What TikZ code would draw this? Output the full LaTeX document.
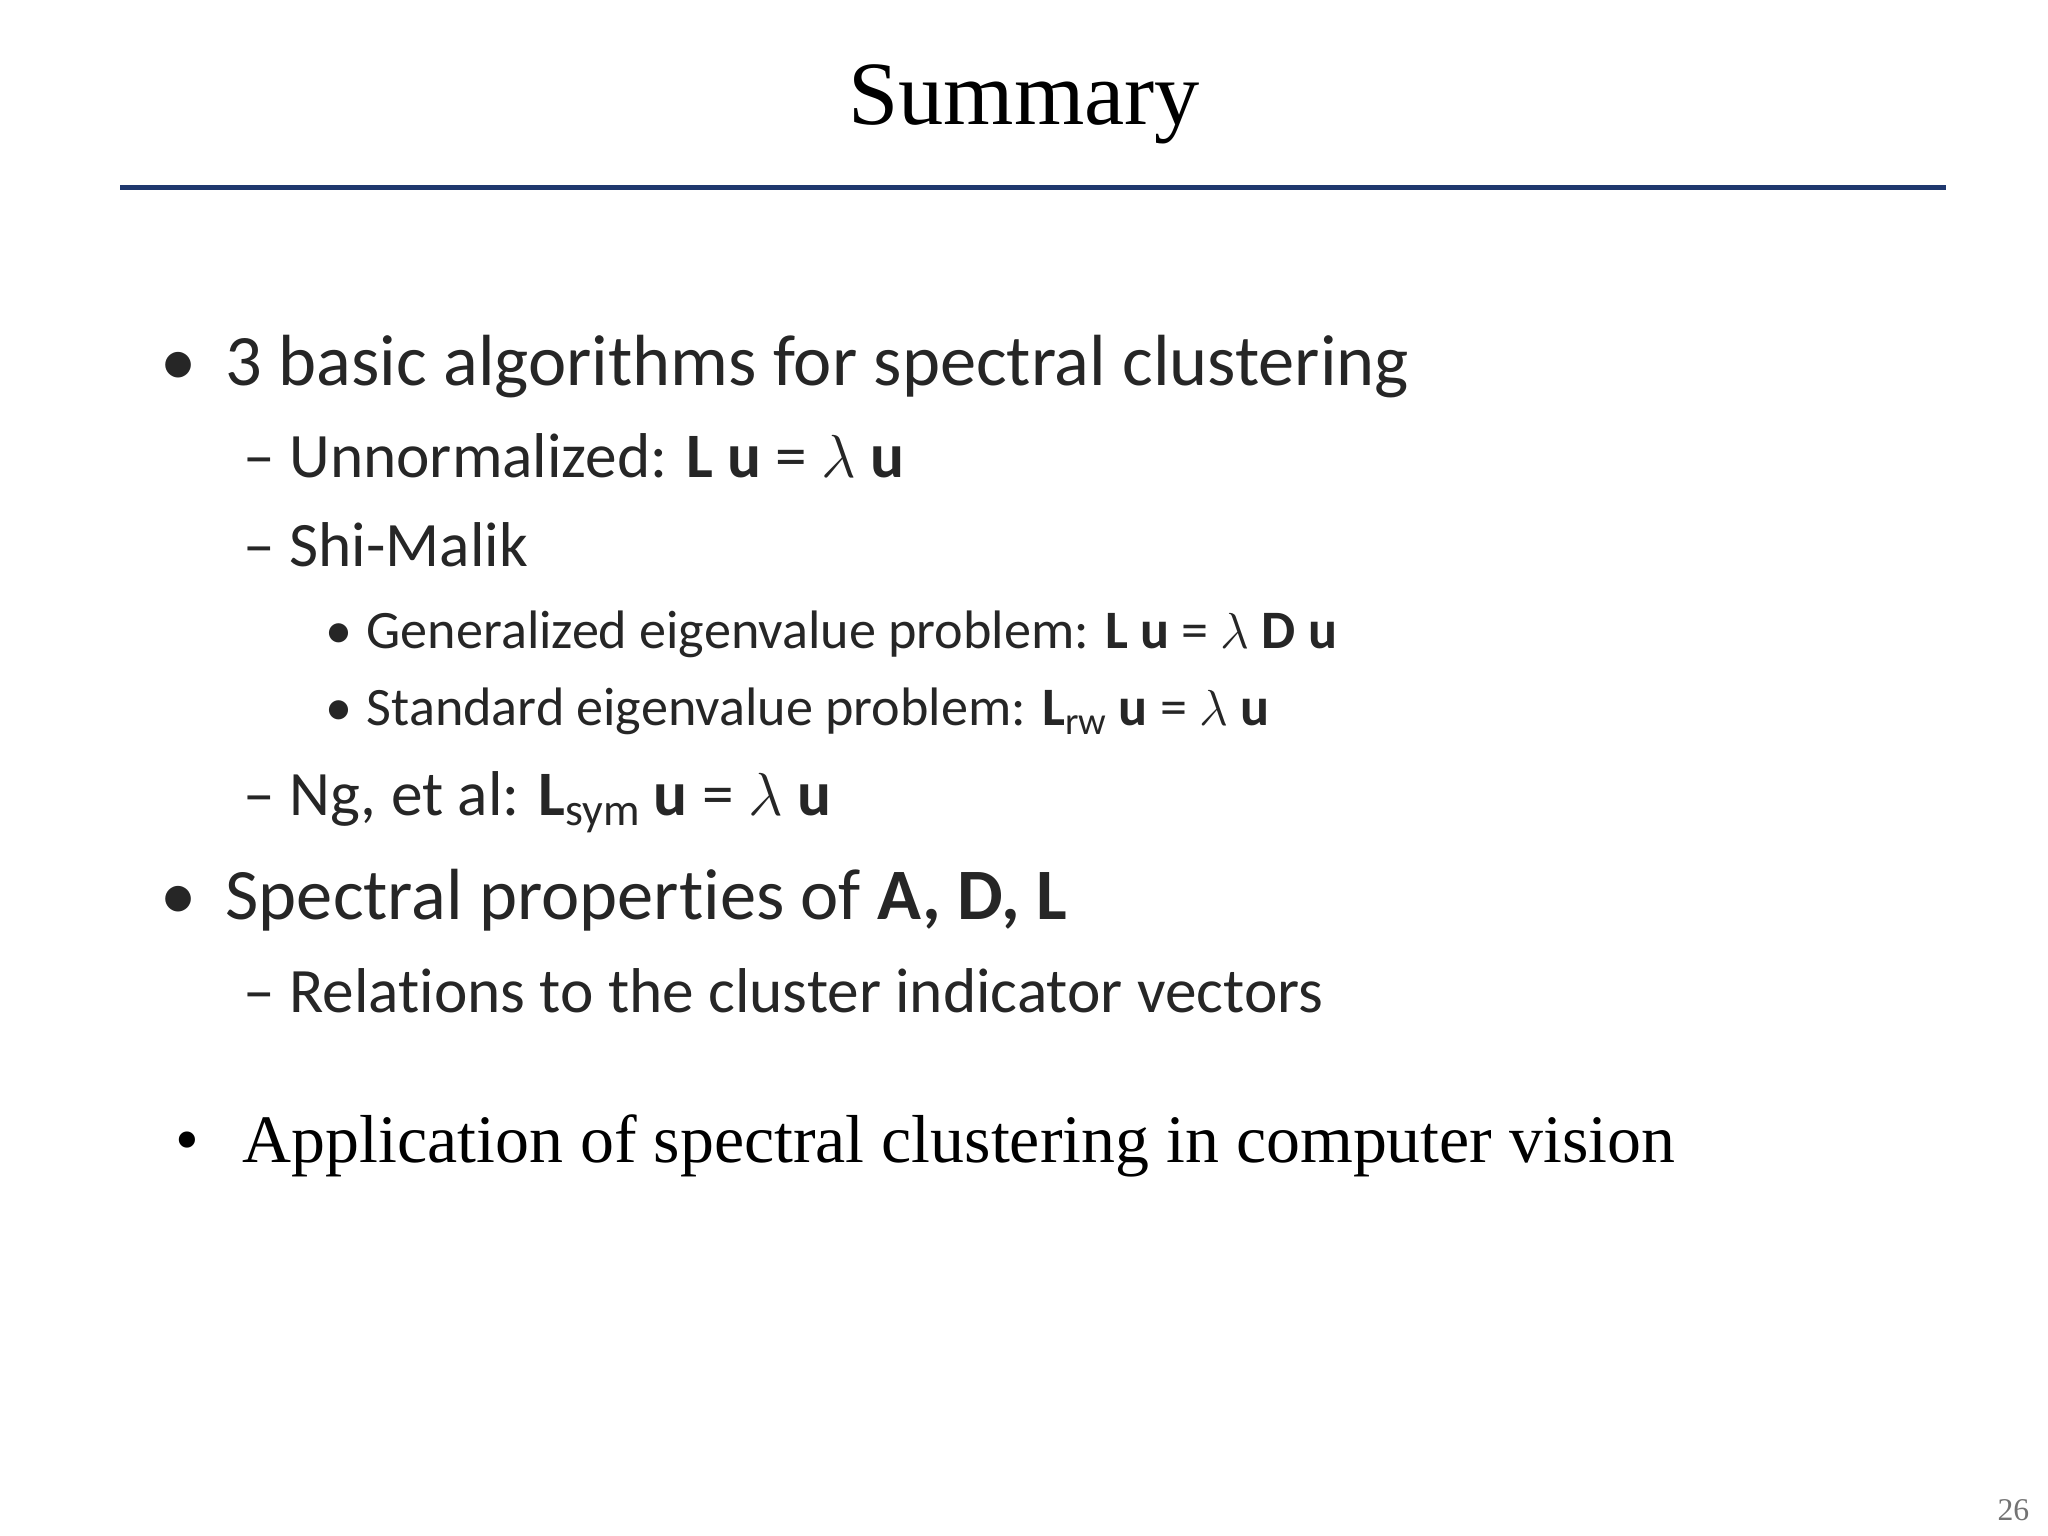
\documentclass[tikz,border=0pt]{standalone}
\usepackage{fontspec}
\setmainfont{Liberation Serif}
\newfontfamily\calfont[RawFeature=-liga]{Carlito}
\begin{document}
\begin{tikzpicture}[x=0.01cm,y=-0.01cm,
  lone/.style={anchor=base west,inner sep=0pt,font=\calfont\fontsize{20.6}{25}\selectfont,text=black!85},
  ltwo/.style={anchor=base west,inner sep=0pt,font=\calfont\fontsize{18}{22}\selectfont,text=black!85},
  lthree/.style={anchor=base west,inner sep=0pt,font=\calfont\fontsize{15.4}{19}\selectfont,text=black!85}]
\useasboundingbox[fill=white] (0,0) rectangle (2048,1536);
\node[anchor=base,inner sep=0pt,font=\fontsize{25.7}{30}\selectfont] (title) at (1024,124) {Summary};
\coordinate (la) at (120,187); \coordinate (lb) at (1946,187);
\draw[line width=0.05cm,color={rgb,255:red,31;green,56;blue,110}] (la) -- (lb);
\node[lone] (b1d) at (160,385) {•};
\node[lone] (b1) at (225,385) {3 basic algorithms for spectral clustering};
\node[ltwo] (s1) at (243,477) {– Unnormalized: \textbf{L u} = $\lambda$ \textbf{u}};
\node[ltwo] (s2) at (243,566) {– Shi-Malik};
\node[lthree] (t1d) at (325,648) {•};
\node[lthree] (t1) at (366,648) {Generalized eigenvalue problem: \textbf{L u} = $\lambda$ \textbf{D u}};
\node[lthree] (t2d) at (325,725) {•};
\node[lthree] (t2) at (366,725) {Standard eigenvalue problem: \textbf{L}\raisebox{-0.35ex}{\fontsize{11}{13}\selectfont rw} \textbf{u} = $\lambda$ \textbf{u}};
\node[ltwo] (s3) at (243,815) {– Ng, et al: \textbf{L}\raisebox{-0.35ex}{\fontsize{13}{15}\selectfont sym} \textbf{u} = $\lambda$ \textbf{u}};
\node[lone] (b2d) at (160,919) {•};
\node[lone] (b2) at (225,919) {Spectral properties of \textbf{A, D, L}};
\node[ltwo] (s4) at (243,1012) {– Relations to the cluster indicator vectors};
\node[anchor=base west,inner sep=0pt,font=\fontsize{19.3}{23}\selectfont] (b3d) at (175,1162) {•};
\node[anchor=base west,inner sep=0pt,font=\fontsize{19.3}{23}\selectfont] (b3) at (242,1162) {Application of spectral clustering in computer vision};
\node[anchor=base east,inner sep=0pt,font=\fontsize{9}{11}\selectfont,text=black!55] (pg) at (2030,1520) {26};
\end{tikzpicture}
\end{document}
